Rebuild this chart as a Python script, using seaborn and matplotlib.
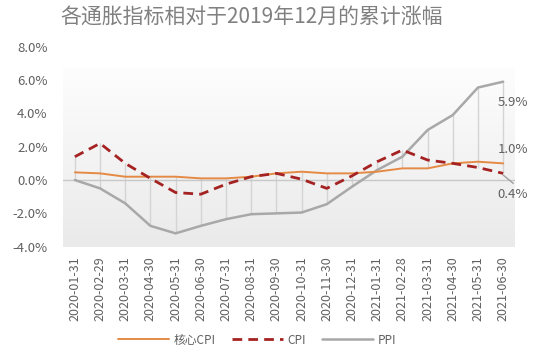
import numpy as np
import pandas as pd
import seaborn as sns
import matplotlib.pyplot as plt

sns.set_style("white")
plt.rcParams['font.family'] = ['Noto Sans CJK SC', 'DejaVu Sans']
plt.rcParams['axes.unicode_minus'] = False

## DATA
dates = ['2020-01-31', '2020-02-29', '2020-03-31', '2020-04-30', '2020-05-31', '2020-06-30',
         '2020-07-31', '2020-08-31', '2020-09-30', '2020-10-31', '2020-11-30', '2020-12-31',
         '2021-01-31', '2021-02-28', '2021-03-31', '2021-04-30', '2021-05-31', '2021-06-30']
core_cpi = [0.46, 0.4, 0.2, 0.2, 0.2, 0.1, 0.1, 0.2, 0.4, 0.5, 0.4, 0.4,
            0.5, 0.7, 0.7, 1.0, 1.1, 1.0]
cpi = [1.4, 2.2, 1.0, 0.1, -0.75, -0.85, -0.25, 0.2, 0.4, 0.05, -0.5, 0.25,
       1.1, 1.8, 1.2, 1.0, 0.75, 0.4]
ppi = [0.0, -0.5, -1.4, -2.75, -3.2, -2.75, -2.35, -2.05, -2.0, -1.95, -1.45, -0.4,
       0.6, 1.4, 3.0, 3.9, 5.55, 5.9]
series_names = ['核心CPI', 'CPI', 'PPI']
end_labels = ['1.0%', '0.4%', '5.9%']

df = pd.DataFrame({'x': np.arange(len(dates)), '核心CPI': core_cpi, 'CPI': cpi, 'PPI': ppi})

colors = {'核心CPI': '#e58a45', 'CPI': '#a52222', 'PPI': '#a8a8a8'}
txt = '#606060'

fig = plt.figure(figsize=(5.5, 3.64), dpi=100)
ax = fig.add_axes([63/550, (364-246.7)/364, (515-63)/550, 200/364])
ax.set_facecolor('none')
ax.set_xlim(-0.47, 17.47)
ax.set_ylim(-4, 8)

# gradient panel
grad = np.linspace(0, 1, 100).reshape(-1, 1)
ax.imshow(grad, extent=[-0.47, 17.47, -4, 6.7], aspect='auto', origin='upper',
          cmap=plt.matplotlib.colors.LinearSegmentedColormap.from_list('g', ['#fdfdfd', '#eaeaea']),
          zorder=0)

# high-low lines and zero line
hi = df[series_names].max(axis=1)
lo = df[series_names].min(axis=1)
ax.vlines(df['x'], lo, hi, color='#d4d4d4', lw=1, zorder=1)
ax.axhline(0, color='#c8c8c8', lw=1, zorder=1)

sns.lineplot(data=df, x='x', y='PPI', color=colors['PPI'], lw=1.8, ax=ax, label='PPI', zorder=3)
sns.lineplot(data=df, x='x', y='核心CPI', color=colors['核心CPI'], lw=1.4, ax=ax, label='核心CPI', zorder=4)
sns.lineplot(data=df, x='x', y='CPI', color=colors['CPI'], lw=2.0, ax=ax, label='CPI', zorder=5)
ax.lines[-1].set_dashes([3.5, 2.2])

# end labels
last = len(dates) - 1
ax.annotate(end_labels[2], (last, ppi[-1]), xytext=(-4, -15), textcoords='offset points',
            fontsize=9.5, color=txt, ha='left', va='center')
ax.annotate(end_labels[0], (last, core_cpi[-1]), xytext=(-4, 10), textcoords='offset points',
            fontsize=9.5, color=txt, ha='left', va='center')
ax.annotate(end_labels[1], (last, cpi[-1]), xytext=(-4, -15), textcoords='offset points',
            fontsize=9.5, color=txt, ha='left', va='center')
ax.annotate('', (last, cpi[-1] - 0.1), xytext=(last + 0.4, -0.2),
            arrowprops=dict(arrowstyle='-', color='#a0a0a0', lw=1, shrinkA=0, shrinkB=0))

ax.set_yticks([-4, -2, 0, 2, 4, 6, 8])
ax.set_yticklabels(['{:.1f}%'.format(v) for v in [-4, -2, 0, 2, 4, 6, 8]])
ax.set_xticks(df['x'])
ax.set_xticklabels(dates, rotation=90)
ax.tick_params(axis='y', length=0, pad=11, labelsize=9.5, labelcolor=txt)
ax.tick_params(axis='x', length=0, pad=7, labelsize=9, labelcolor=txt)
ax.set_xlabel('')
ax.set_ylabel('')
sns.despine(ax=ax, left=True, bottom=True)

handles, labels = ax.get_legend_handles_labels()
order = [labels.index(n) for n in series_names]
ax.get_legend().remove()
fig.legend([handles[i] for i in order], series_names, loc='center', ncol=3,
           bbox_to_anchor=(257/550, 1 - 340/364), frameon=False, fontsize=8.5,
           handlelength=4.3, handletextpad=0.4, columnspacing=1.4, labelcolor=txt)

fig.text(252/550, 1 - 17/364, '各通胀指标相对于2019年12月的累计涨幅', ha='center', va='center',
         fontsize=15, color='#808080')

fig.savefig('out.png', dpi=100)
